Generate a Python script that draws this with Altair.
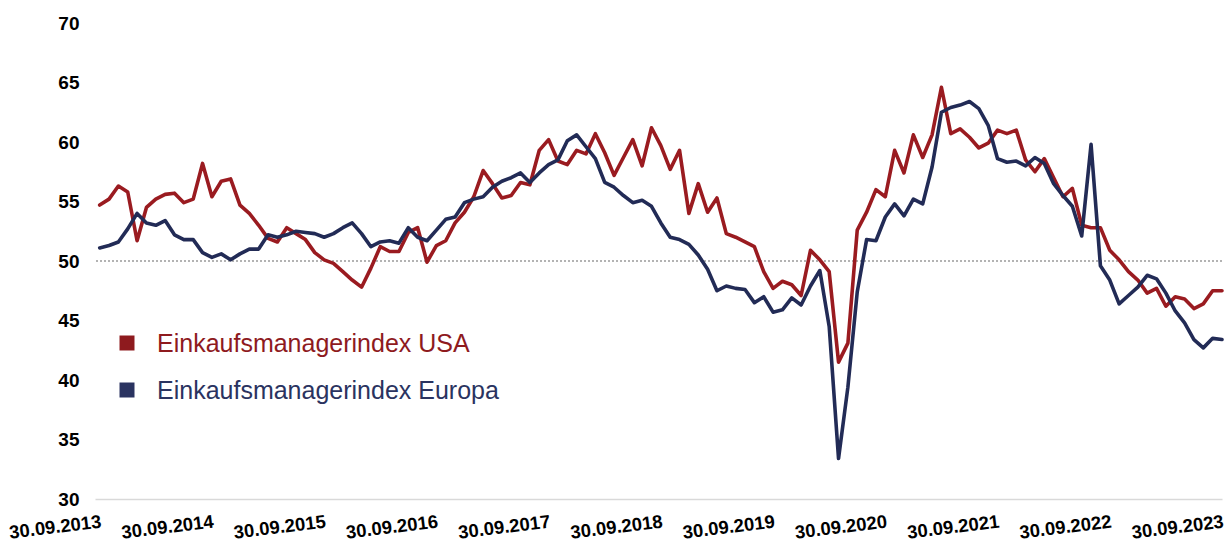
import altair as alt
import pandas as pd

# Monthly values, 30.09.2013 .. 30.09.2023 (121 months)
usa = [
    54.7, 55.2, 56.3, 55.8,
    51.7, 54.5, 55.2, 55.6, 55.7, 54.9, 55.2, 58.2, 55.4, 56.7, 56.9, 54.7,
    54.0, 53.0, 51.9, 51.6, 52.8, 52.3, 51.8, 50.7, 50.1, 49.8, 49.1, 48.4,
    47.8, 49.4, 51.2, 50.8, 50.8, 52.4, 52.8, 49.9, 51.3, 51.7, 53.2, 54.1,
    55.4, 57.6, 56.5, 55.3, 55.5, 56.6, 56.4, 59.3, 60.2, 58.4, 58.1, 59.3,
    59.0, 60.7, 59.1, 57.2, 58.7, 60.2, 58.0, 61.2, 59.7, 57.7, 59.3, 54.0,
    56.5, 54.1, 55.3, 52.3, 52.0, 51.6, 51.2, 49.1, 47.7, 48.3, 48.0, 47.1,
    50.9, 50.1, 49.1, 41.5, 43.1, 52.6, 54.1, 56.0, 55.4, 59.3, 57.4, 60.6,
    58.7, 60.6, 64.6, 60.7, 61.1, 60.4, 59.5, 59.9, 61.0, 60.7, 61.0, 58.5,
    57.5, 58.6, 57.0, 55.4, 56.1, 53.0, 52.8, 52.8, 50.9, 50.1, 49.1, 48.4,
    47.3, 47.7, 46.2, 47.0, 46.8, 46.0, 46.4, 47.5, 47.5,
]
europa = [
    51.1, 51.3, 51.6, 52.7,
    54.0, 53.2, 53.0, 53.4, 52.2, 51.8, 51.8, 50.7, 50.3, 50.6, 50.1, 50.6,
    51.0, 51.0, 52.2, 52.0, 52.2, 52.5, 52.4, 52.3, 52.0, 52.3, 52.8, 53.2,
    52.3, 51.2, 51.6, 51.7, 51.5, 52.8, 52.0, 51.7, 52.6, 53.5, 53.7, 54.9,
    55.2, 55.4, 56.2, 56.7, 57.0, 57.4, 56.6, 57.4, 58.1, 58.5, 60.1, 60.6,
    59.6, 58.6, 56.6, 56.2, 55.5, 54.9, 55.1, 54.6, 53.2, 52.0, 51.8, 51.4,
    50.5, 49.3, 47.5, 47.9, 47.7, 47.6, 46.5, 47.0, 45.7, 45.9, 46.9, 46.3,
    47.9, 49.2, 44.5, 33.4, 39.4, 47.4, 51.8, 51.7, 53.7, 54.8, 53.8, 55.2,
    54.8, 57.9, 62.5, 62.9, 63.1, 63.4, 62.8, 61.4, 58.6, 58.3, 58.4, 58.0,
    58.7, 58.2, 56.5, 55.5, 54.6, 52.1, 59.8, 49.6, 48.4, 46.4, 47.1, 47.8,
    48.8, 48.5, 47.3, 45.8, 44.8, 43.4, 42.7, 43.5, 43.4,
]
tick_labels = ["30.09.2013", "30.09.2014", "30.09.2015", "30.09.2016", "30.09.2017",
               "30.09.2018", "30.09.2019", "30.09.2020", "30.09.2021", "30.09.2022",
               "30.09.2023"]
y_ticks = [30, 35, 40, 45, 50, 55, 60, 65, 70]
series_names = ["Einkaufsmanagerindex USA", "Einkaufsmanagerindex Europa"]
line_colors = ["#9A1B20", "#222B56"]
legend_text_colors = ["#8E1A1E", "#2A3360"]
threshold = [50]

n = len(usa)
df_usa = pd.DataFrame({"idx": list(range(n)), "value": usa, "series": series_names[0]})
df_eu = pd.DataFrame({"idx": list(range(n)), "value": europa, "series": series_names[1]})

FONT = "Liberation Sans"
label_arr = "[" + ",".join("'" + t + "'" for t in tick_labels) + "]"

x_enc = alt.X(
    "idx:Q",
    scale=alt.Scale(domain=[-0.5, n - 1], nice=False, zero=False),
    axis=alt.Axis(
        values=[12 * k for k in range(len(tick_labels))],
        labelExpr=label_arr + "[round(datum.value / 12)]",
        labelAngle=-7,
        labelAlign="right",
        labelBaseline="top",
        labelPadding=13,
        labelFont=FONT,
        labelFontWeight="bold",
        labelFontSize=18.5,
        labelColor="#000000",
        labelOverlap=False,
        labelBound=False,
        labelFlush=False,
        ticks=False,
        grid=False,
        domainColor="#d9d9d9",
        domainWidth=1.5,
        title=None,
    ),
)
y_enc = alt.Y(
    "value:Q",
    scale=alt.Scale(domain=[30, 70], nice=False, zero=False),
    axis=alt.Axis(
        values=y_ticks,
        labelPadding=16,
        labelFont=FONT,
        labelFontWeight="bold",
        labelFontSize=19,
        labelColor="#000000",
        ticks=False,
        grid=False,
        domain=False,
        title=None,
    ),
)

rule = alt.Chart(pd.DataFrame({"y": threshold})).mark_rule(
    color="#9a9a9a", strokeDash=[2, 2], strokeWidth=1.5
).encode(y=alt.Y("y:Q", scale=alt.Scale(domain=[30, 70], nice=False, zero=False)))

line_usa = alt.Chart(df_usa).mark_line(
    color=line_colors[0], strokeWidth=3.6, strokeJoin="round", strokeCap="round"
).encode(x=x_enc, y=y_enc)
line_eu = alt.Chart(df_eu).mark_line(
    color=line_colors[1], strokeWidth=3.6, strokeJoin="round", strokeCap="round"
).encode(x=x_enc, y=y_enc)

# manual legend inside the plot
legend_rows_y = [320, 367]
legend_layers = []
for name, col, tcol, ly in zip(series_names, line_colors, legend_text_colors, legend_rows_y):
    ldf = pd.DataFrame({"label": [name]})
    sq = alt.Chart(ldf).mark_square(size=225, color=tcol, opacity=1).encode(
        x=alt.value(32), y=alt.value(ly)
    )
    tx = alt.Chart(ldf).mark_text(
        align="left", baseline="middle", font=FONT, fontSize=25, color=tcol
    ).encode(x=alt.value(62), y=alt.value(ly + 1), text="label:N")
    legend_layers += [sq, tx]

chart = alt.layer(rule, line_usa, line_eu, *legend_layers).properties(
    width=1127,
    height=476,
    autosize=alt.AutoSizeParams(type="none"),
    padding={"left": 95, "top": 23, "right": 3, "bottom": 43},
    background="white",
).configure_view(stroke=None)

chart.save("out.html", embed_options={"renderer": "svg", "actions": False})
